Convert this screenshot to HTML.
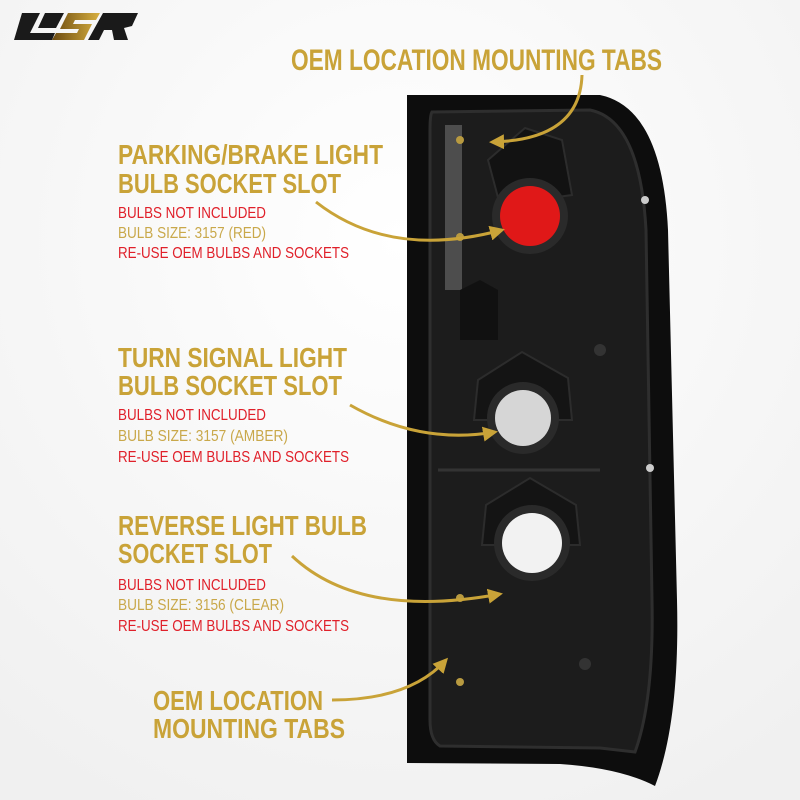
<!DOCTYPE html>
<html><head><meta charset="utf-8"><style>
html,body{margin:0;padding:0;background:#fff}
svg{display:block}
text{font-family:"Liberation Sans Narrow","Liberation Sans",sans-serif;font-weight:bold}
.g{fill:#c9a338}
.r{fill:#e0202a;font-weight:normal}
.s{fill:#c9a84a;font-weight:normal}
</style></head><body>
<svg width="800" height="800" viewBox="0 0 800 800" xmlns="http://www.w3.org/2000/svg">
<defs>
<radialGradient id="bg" cx="0.5" cy="0.3" r="0.8"><stop offset="0" stop-color="#ffffff"/><stop offset="1" stop-color="#f0f0f0"/></radialGradient>
<linearGradient id="lg" x1="0" x2="1"><stop offset="0" stop-color="#6b4a10"/><stop offset="1" stop-color="#d8b040"/></linearGradient>
<marker id="ah" viewBox="0 0 10 10" refX="8" refY="5" markerWidth="5" markerHeight="5" orient="auto"><path d="M0,0 L10,5 L0,10 Z" fill="#c9a338"/></marker>
</defs>
<rect width="800" height="800" fill="url(#bg)"/>
<!-- logo -->
<polygon points="22,13 40,13 30,33 55,33 52,40 14,40" fill="#1a1a1a"/>
<polygon points="45,13 64,13 56,28 38,28" fill="#1a1a1a"/>
<polygon points="68,13 100,13 96,20 75,20 73,24 92,24 84,40 52,40 56,33 77,33 79,29 60,29" fill="url(#lg)"/>
<polygon points="103,13 138,13 132,26 124,28 128,40 114,40 112,30 104,30 99,40 88,40" fill="#1a1a1a"/>
<!-- lamp -->
<path d="M407,95 L600,95 Q662,108 668,230 L677,600 Q680,720 655,786 Q620,768 560,764 L407,763 Z" fill="#0d0d0d"/>
<path d="M432,112 L590,110 Q640,120 646,230 L652,600 Q654,700 635,752 L600,748 L440,746 Q430,740 430,720 L430,130 Q430,115 432,112 Z" fill="#1c1c1c" stroke="#2e2e2e" stroke-width="3"/>
<path d="M445,125 L462,125 L462,290 L445,290 Z" fill="#8a8a8a" opacity="0.45"/>
<path d="M438,470 L600,470" stroke="#333" stroke-width="3"/>
<polygon points="488,160 525,128 562,140 572,195 500,205" fill="#121212" stroke="#2c2c2c" stroke-width="2"/>
<circle cx="530" cy="216" r="38" fill="#2a2a2a"/>
<circle cx="530" cy="216" r="30" fill="#e01818"/>
<polygon points="460,290 480,280 498,290 498,340 460,340" fill="#111"/>
<polygon points="478,380 522,352 568,378 572,420 474,420" fill="#141414" stroke="#2c2c2c" stroke-width="2"/>
<circle cx="523" cy="418" r="36" fill="#2a2a2a"/>
<circle cx="523" cy="418" r="28" fill="#d6d6d6"/>
<polygon points="486,505 530,478 576,505 580,545 482,545" fill="#141414" stroke="#2c2c2c" stroke-width="2"/>
<circle cx="532" cy="543" r="38" fill="#2a2a2a"/>
<circle cx="532" cy="543" r="30" fill="#f2f2f2"/>
<circle cx="645" cy="200" r="4" fill="#ccc"/><circle cx="650" cy="468" r="4" fill="#ccc"/>
<circle cx="460" cy="140" r="4" fill="#b89a40"/><circle cx="460" cy="237" r="4" fill="#b89a40"/>
<circle cx="460" cy="598" r="4" fill="#b89a40"/><circle cx="460" cy="682" r="4" fill="#b89a40"/>
<circle cx="600" cy="350" r="6" fill="#333"/><circle cx="585" cy="664" r="6" fill="#333"/>
<!-- arrows -->
<g fill="none" stroke="#c9a338" stroke-width="3" marker-end="url(#ah)">
<path d="M582,75 Q580,140 492,142"/>
<path d="M316,202 Q390,260 502,230"/>
<path d="M350,405 Q420,445 495,432"/>
<path d="M292,556 Q360,620 500,594"/>
<path d="M332,700 Q410,700 446,660"/>
</g>
<!-- text -->
<text class="g" x="291" y="70" font-size="30" textLength="371" lengthAdjust="spacingAndGlyphs">OEM LOCATION MOUNTING TABS</text>
<text class="g" x="118" y="164" font-size="28" textLength="265" lengthAdjust="spacingAndGlyphs">PARKING/BRAKE LIGHT</text>
<text class="g" x="118" y="193" font-size="28" textLength="223" lengthAdjust="spacingAndGlyphs">BULB SOCKET SLOT</text>
<text class="r" x="118" y="218" font-size="16" textLength="148" lengthAdjust="spacingAndGlyphs">BULBS NOT INCLUDED</text>
<text class="s" x="118" y="238" font-size="16" textLength="148" lengthAdjust="spacingAndGlyphs">BULB SIZE: 3157 (RED)</text>
<text class="r" x="118" y="258" font-size="16" textLength="231" lengthAdjust="spacingAndGlyphs">RE-USE OEM BULBS AND SOCKETS</text>
<text class="g" x="118" y="367" font-size="28" textLength="229" lengthAdjust="spacingAndGlyphs">TURN SIGNAL LIGHT</text>
<text class="g" x="118" y="395" font-size="28" textLength="224" lengthAdjust="spacingAndGlyphs">BULB SOCKET SLOT</text>
<text class="r" x="118" y="420" font-size="16" textLength="148" lengthAdjust="spacingAndGlyphs">BULBS NOT INCLUDED</text>
<text class="s" x="118" y="441" font-size="16" textLength="170" lengthAdjust="spacingAndGlyphs">BULB SIZE: 3157 (AMBER)</text>
<text class="r" x="118" y="462" font-size="16" textLength="231" lengthAdjust="spacingAndGlyphs">RE-USE OEM BULBS AND SOCKETS</text>
<text class="g" x="118" y="535" font-size="28" textLength="249" lengthAdjust="spacingAndGlyphs">REVERSE LIGHT BULB</text>
<text class="g" x="118" y="563" font-size="28" textLength="154" lengthAdjust="spacingAndGlyphs">SOCKET SLOT</text>
<text class="r" x="118" y="590" font-size="16" textLength="148" lengthAdjust="spacingAndGlyphs">BULBS NOT INCLUDED</text>
<text class="s" x="118" y="610" font-size="16" textLength="166" lengthAdjust="spacingAndGlyphs">BULB SIZE: 3156 (CLEAR)</text>
<text class="r" x="118" y="631" font-size="16" textLength="231" lengthAdjust="spacingAndGlyphs">RE-USE OEM BULBS AND SOCKETS</text>
<text class="g" x="153" y="710" font-size="28" textLength="170" lengthAdjust="spacingAndGlyphs">OEM LOCATION</text>
<text class="g" x="153" y="738" font-size="28" textLength="192" lengthAdjust="spacingAndGlyphs">MOUNTING TABS</text>
</svg>
</body></html>
